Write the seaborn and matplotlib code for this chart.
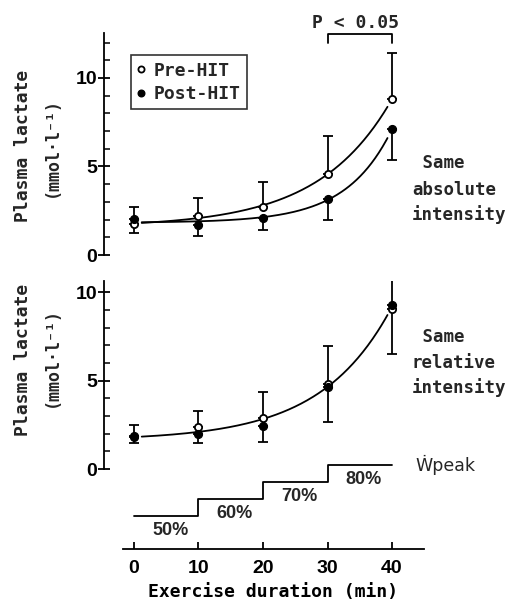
import numpy as np
import matplotlib
matplotlib.use("Agg")
import matplotlib.pyplot as plt
import seaborn as sns
from matplotlib.ticker import MultipleLocator

# lactate values (mmol/l), pre/post HIT
minutes = [0, 10, 20, 30, 40]

abs_pre = [1.75, 2.2, 2.7, 4.6, 8.8]
abs_pre_sd = [0.95, 1.0, 1.4, 2.1, 2.6]
abs_post = [2.05, 1.7, 2.1, 3.15, 7.1]
abs_post_sd = [0.8, 0.6, 0.7, 1.15, 1.75]

rel_pre = [1.8, 2.35, 2.9, 4.8, 9.05]
rel_pre_sd = [0.7, 0.95, 1.45, 2.15, 2.85]
rel_post = [1.85, 2.0, 2.45, 4.65, 9.3]
rel_post_sd = [0.4, 0.55, 0.9, 2.0, 2.8]

# workload protocol (% of Wpeak)
stage_edges = [0, 10, 20, 30, 40]
stage_load = [50, 60, 70, 80, 80]
stage_labels = ["50%", "60%", "70%", "80%"]

sns.set_theme(style="white")
plt.rcParams['font.family'] = ['DejaVu Sans Mono', 'DejaVu Sans']
plt.rcParams['font.weight'] = 'bold'

W, H = 511, 603
fig = plt.figure(figsize=(W / 100, H / 100), dpi=100)


def px_axes(left, top, right, bottom):
    return fig.add_axes([left / W, 1 - bottom / H, (right - left) / W, (bottom - top) / H])


def fit_exp(t, y):
    ## simple a + b*exp(k t) fit, grid over k and least squares for a, b
    t = np.asarray(t, float)
    y = np.asarray(y, float)
    best = None
    for k in np.linspace(0.01, 0.3, 300):
        A = np.column_stack([np.ones_like(t), np.exp(k * t)])
        coef = np.linalg.lstsq(A, y, rcond=None)[0]
        err = np.sum((A @ coef - y) ** 2)
        if best is None or err < best[0]:
            best = (err, k, coef)
    _, k, (a, b) = best
    return lambda x: a + b * np.exp(k * x)


def style_lactate_axis(ax, ytop):
    ax.set_xlim(-4.65, 44.96)
    ax.set_ylim(0, ytop)
    for s in ["top", "right", "bottom"]:
        ax.spines[s].set_visible(False)
    ax.spines["left"].set_color("black")
    ax.spines["left"].set_linewidth(1.3)
    ax.set_xticks([])
    ax.yaxis.set_major_locator(MultipleLocator(5))
    ax.yaxis.set_minor_locator(MultipleLocator(1))
    ax.tick_params(axis="y", which="major", direction="inout", length=8, width=1.3,
                   colors="black", labelsize=14, pad=1, left=True)
    ax.tick_params(axis="y", which="minor", direction="in", length=4, width=1.1,
                   colors="black", left=True)
    for lab in ax.get_yticklabels():
        lab.set_fontfamily("Liberation Sans")
        lab.set_fontweight("bold")
    ax.patch.set_alpha(0)


def draw_series(ax, pre, pre_sd, post, post_sd, curves):
    t_fine = np.linspace(1.2, 39.3, 200)
    for f in curves:
        sns.lineplot(x=t_fine, y=f(t_fine), ax=ax, color="black", linewidth=1.3, zorder=1)
    ax.errorbar(minutes, pre, yerr=[np.zeros(5), pre_sd], fmt="none", ecolor="black",
                elinewidth=1.3, capsize=3.5, capthick=1.3, zorder=2)
    ax.errorbar(minutes, post, yerr=[post_sd, np.zeros(5)], fmt="none", ecolor="black",
                elinewidth=1.3, capsize=3.5, capthick=1.3, zorder=2)
    ax.plot(minutes, pre, "o", ms=5.2, mfc="white", mec="black", mew=1.3,
            linestyle="none", zorder=3, label="Pre-HIT")
    ax.plot(minutes, post, "o", ms=5.6, mfc="black", mec="black",
            linestyle="none", zorder=4, label="Post-HIT")


# --- top panel: same absolute intensity
ax1 = px_axes(104, 33, 424, 255)
draw_series(ax1, abs_pre, abs_pre_sd, abs_post, abs_post_sd,
            [fit_exp(minutes, abs_pre), fit_exp(minutes, abs_post)])
style_lactate_axis(ax1, 12.54)

leg = ax1.legend(loc="upper left", bbox_to_anchor=(0.083, 0.90), fontsize=13,
                 frameon=True, fancybox=False, handlelength=0.5, handletextpad=0.45,
                 borderpad=0.35, labelspacing=0.3, borderaxespad=0, markerscale=0.85)
leg.get_frame().set_edgecolor("black")
leg.get_frame().set_linewidth(1.2)

# significance bracket at 30-40 min
ax1.plot([30, 30, 40, 40], [12.0, 12.5, 12.5, 12.0], color="black", lw=1.3, clip_on=False)
ax1.text(34.4, 13.1, "P < 0.05", ha="center", va="center", fontsize=13, clip_on=False)

# --- bottom panel: same relative intensity
ax2 = px_axes(104, 281, 424, 469)
rel_mean = [(a + b) / 2 for a, b in zip(rel_pre, rel_post)]
draw_series(ax2, rel_pre, rel_pre_sd, rel_post, rel_post_sd, [fit_exp(minutes, rel_mean)])
style_lactate_axis(ax2, 10.64)

# y labels
for yc1, yc2 in [(146, 147), (360, 357)]:
    fig.text(23 / W, 1 - yc1 / H, "Plasma lactate", rotation=90, ha="center", va="center",
             fontsize=13)
    fig.text(52 / W, 1 - yc2 / H, "(mmol·l⁻¹)", rotation=90, ha="center", va="center",
             fontsize=12)

# right-hand annotations
for lines, ys in [([" Same", "absolute", "intensity"], [163, 190, 215]),
                  ([" Same", "relative", "intensity"], [337, 363, 388])]:
    for txt, yc in zip(lines, ys):
        fig.text(412 / W, 1 - yc / H, txt, ha="left", va="center", fontsize=12.5)

# --- workload steps and time axis
ax3 = px_axes(123, 455, 424, 549)
ax3.step(stage_edges, stage_load, where="post", color="black", lw=1.3)
ax3.set_xlim(-1.705, 44.96)
ax3.set_ylim(30.9, 85.85)
for s in ["top", "right", "left"]:
    ax3.spines[s].set_visible(False)
ax3.spines["bottom"].set_color("black")
ax3.spines["bottom"].set_linewidth(1.3)
ax3.set_yticks([])
ax3.set_xticks(minutes)
ax3.tick_params(axis="x", direction="in", length=5, width=1.3, colors="black",
                labelsize=14, pad=8, bottom=True)
for lab in ax3.get_xticklabels():
    lab.set_fontfamily("Liberation Sans")
    lab.set_fontweight("bold")
ax3.set_xlabel("Exercise duration (min)", fontsize=13, labelpad=4, fontweight="bold",
               color="black")
ax3.patch.set_alpha(0)

for start, load, lab in zip(stage_edges[:-1], stage_load[:-1], stage_labels):
    ax3.text(start + 5.6, load - 8.2, lab, ha="center", va="center", fontsize=13,
             fontfamily="Liberation Sans", fontweight="bold")
ax3.text(43.6, stage_load[-1], "Ẇpeak", ha="left", va="center", fontsize=12.5,
         fontfamily=["DejaVu Sans", "DejaVu Sans Mono"], fontweight="normal", clip_on=False)

fig.savefig("out.png", dpi=100)
